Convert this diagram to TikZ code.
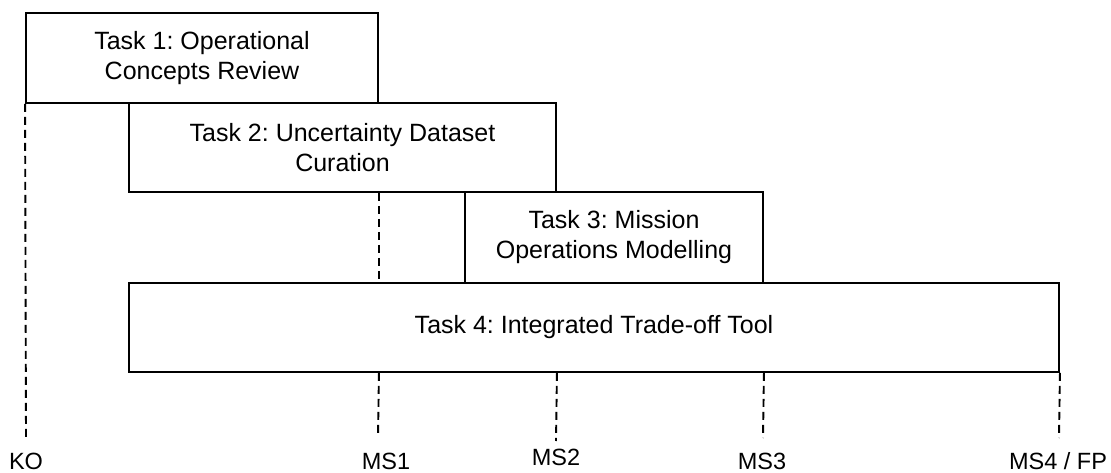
\documentclass[tikz,border=0pt]{standalone}
\usepackage{fontspec}
\setmainfont{Liberation Sans}
\frenchspacing
\begin{document}
\begin{tikzpicture}[x=1pt,y=-1pt,
  taskbox/.style={draw=black, line width=1.9pt, inner sep=0pt, align=center,
    font=\fontsize{25}{30}\selectfont\frenchspacing},
  msline/.style={draw=black, line width=1.9pt, dash pattern=on 8pt off 5pt},
  mslabel/.style={inner sep=0pt, anchor=base, font=\fontsize{23.5}{28}\selectfont}]
\useasboundingbox (0,0) rectangle (1111,473);
\fill[white] (0,0) rectangle (1111,473);
% task boxes
\node[taskbox, minimum width=352pt, minimum height=90pt] (t1) at (202,58) {Task 1: Operational\\Concepts Review};
\node[taskbox, minimum width=427pt, minimum height=89pt] (t2) at (342.5,147.5) {Task 2: Uncertainty Dataset\\Curation};
\node[taskbox, minimum width=298pt, minimum height=91pt] (t3) at (614,237.5) {Task 3: Mission\\Operations Modelling};
\node[taskbox, minimum width=930pt, minimum height=89pt] (t4) at (594,327.5) {Task 4: Integrated Trade-off Tool};
% milestone labels
\node[mslabel] (ko) at (26,469) {KO};
\node[mslabel] (ms1) at (386,469.5) {MS1};
\node[mslabel] (ms2) at (556,465) {MS2};
\node[mslabel] (ms3) at (762,469) {MS3};
\node[mslabel] (ms4) at (1058,469.5) {MS4 / FP};
% free ends of dashed lines
\coordinate (koend) at (26,438);
\coordinate (ms1end) at (378,437);
\coordinate (ms2end) at (556,441);
\coordinate (ms3end) at (763,438);
\coordinate (ms4end) at (1059,438);
% dashed milestone lines
\draw[msline] (t1.south west) -- (koend);
\draw[msline] (t1.south east |- t2.south) -- (t1.south east |- t4.north);
\draw[msline] (t1.south east |- t4.south) -- (ms1end);
\draw[msline] (t2.south east |- t4.south) -- (ms2end);
\draw[msline] (t3.south east |- t4.south) -- (ms3end);
\draw[msline] (t4.south east) -- (ms4end);
\end{tikzpicture}
\end{document}
